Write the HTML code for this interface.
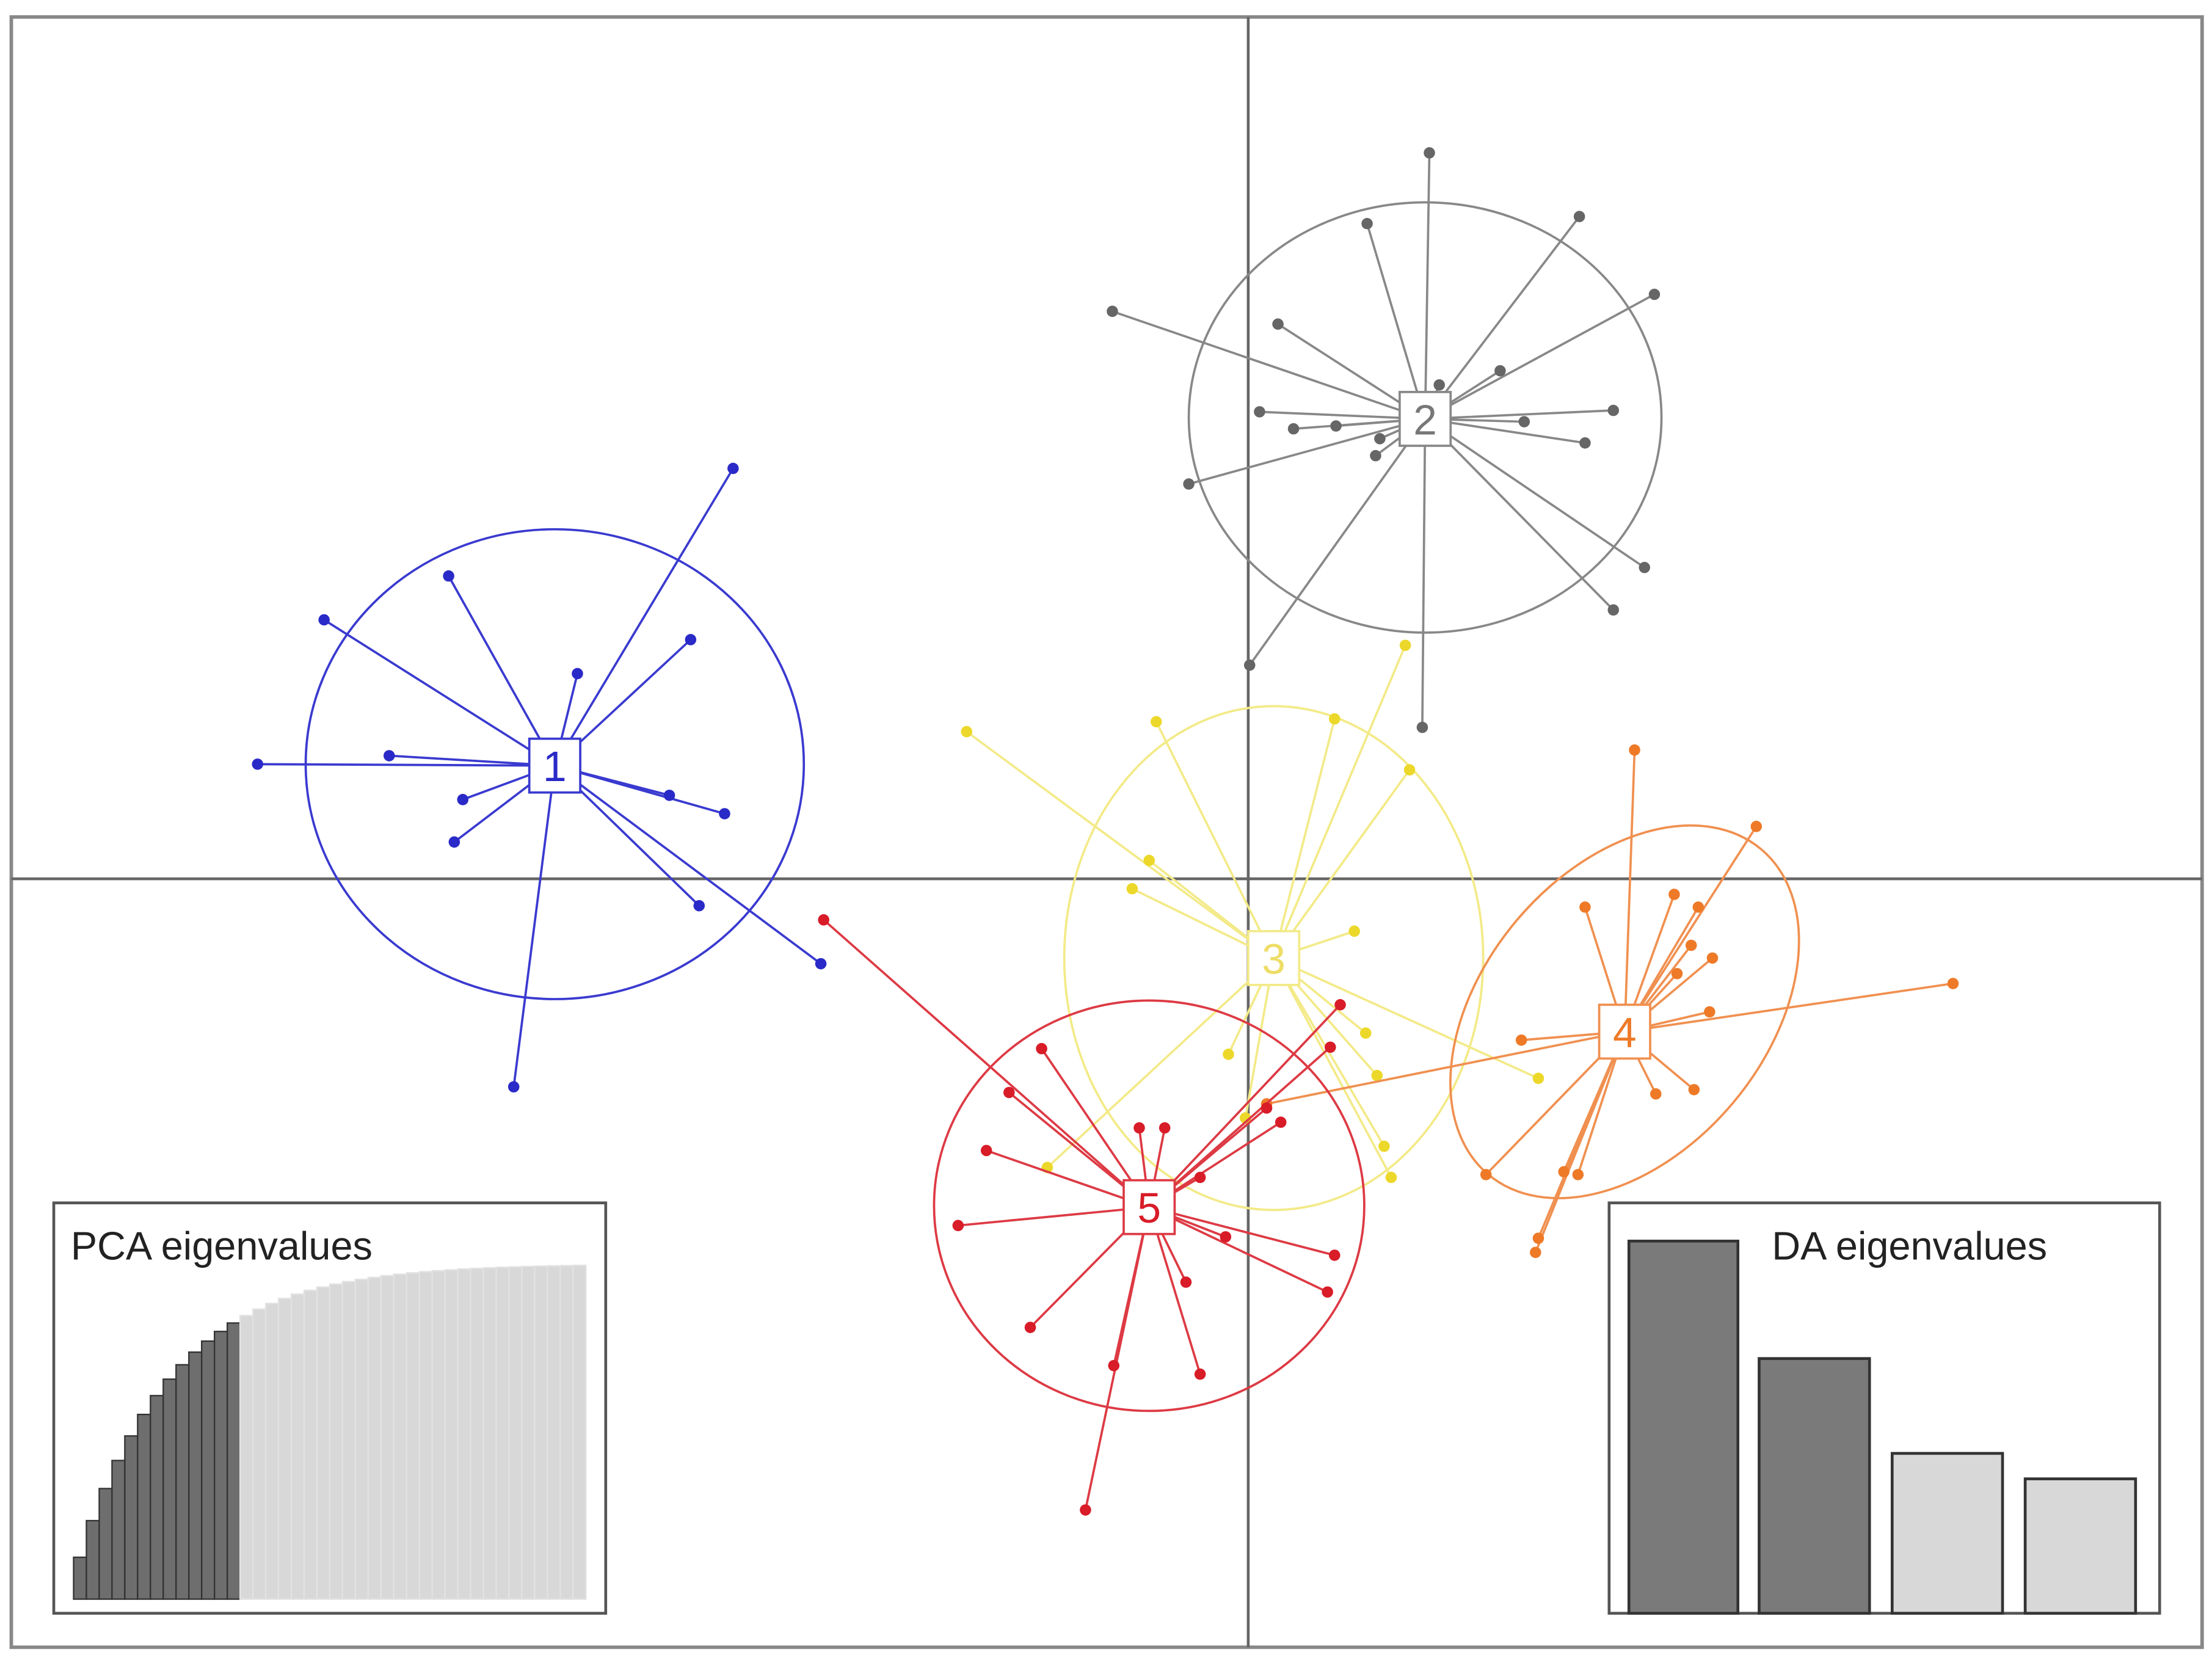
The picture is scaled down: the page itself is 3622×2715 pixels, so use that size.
<!DOCTYPE html>
<html><head><meta charset="utf-8"><style>
html,body{margin:0;padding:0;background:#fff;}
svg{display:block;}
text{font-family:"Liberation Sans",Arial,sans-serif;}
</style></head><body>
<svg id="s" width="3622" height="2715" viewBox="0 0 1563 1171.6" preserveAspectRatio="none" xmlns="http://www.w3.org/2000/svg">
<rect x="0" y="0" width="1563" height="1172" fill="#fff"/>
<rect x="8" y="12" width="1548" height="1152" fill="none" stroke="#888" stroke-width="2.5"/>
<line x1="882" y1="12" x2="882" y2="1164" stroke="#666" stroke-width="2"/>
<line x1="8" y1="621" x2="1556" y2="621" stroke="#666" stroke-width="2"/>
<g id="g"></g>
<!-- PCA inset -->
<rect x="38" y="850" width="390" height="290" fill="#fff" stroke="#555" stroke-width="2"/>
<g id="pca"></g>
<text x="50" y="890" font-size="28" fill="#222">PCA eigenvalues</text>
<!-- DA inset -->
<rect x="1137" y="850" width="389" height="290" fill="#fff" stroke="#555" stroke-width="2"/>
<rect x="1151" y="877" width="77" height="263" fill="#7a7a7a" stroke="#333" stroke-width="2"/>
<rect x="1243" y="960" width="78" height="180" fill="#7a7a7a" stroke="#333" stroke-width="2"/>
<rect x="1337" y="1027" width="78" height="113" fill="#d8d8d8" stroke="#333" stroke-width="2"/>
<rect x="1431" y="1045" width="78" height="95" fill="#d8d8d8" stroke="#333" stroke-width="2"/>
<text x="1252" y="890" font-size="28" fill="#222">DA eigenvalues</text>
</svg>
<script>
var NS="http://www.w3.org/2000/svg",g=document.getElementById('g');
function el(n,a,p){var e=document.createElementNS(NS,n);for(var k in a)e.setAttribute(k,a[k]);(p||g).appendChild(e);return e;}
var C=[
{c:[392,541],e:[392,540,176,166,0],col:"#2a2ac8",lc:"#3a3ad0",tc:"#2a2ac8",lab:"1",
p:[[518,331],[317,407],[229,438],[488,452],[408,476],[182,540],[275,534],[327,565],[473,562],[512,575],[321,595],[494,640],[580,681],[363,768]]},
{c:[1007,296],e:[1007,295,167,152,0],col:"#666",lc:"#888",tc:"#777",lab:"2",
p:[[1010,108],[1116,153],[966,158],[1169,208],[786,220],[903,229],[1060,262],[1017,272],[890,291],[1140,290],[914,303],[1077,298],[944,301],[975,310],[972,322],[1120,313],[840,342],[1162,401],[1140,431],[883,470],[1005,514]]},
{c:[900,677],e:[900,677,148,178,0],col:"#ecd82a",lc:"#f3ea88",tc:"#eedd66",lab:"3",
p:[[683,517],[817,510],[943,508],[993,456],[996,544],[812,608],[800,628],[957,658],[965,730],[973,760],[1087,762],[978,810],[983,832],[880,790],[740,825],[868,745]]},
{c:[1148,729],e:[1148,715,150,100,-50],col:"#ee7a28",lc:"#f09050",tc:"#ee7a28",lab:"4",
p:[[1155,530],[1241,584],[1120,641],[1183,632],[1200,641],[1195,668],[1210,677],[1185,688],[1208,715],[1380,695],[1075,735],[1170,773],[1197,770],[1050,830],[1105,828],[1115,830],[1085,885],[1087,875],[895,780]]},
{c:[812,853],e:[812,852,152,145,0],col:"#d81c28",lc:"#dd3a44",tc:"#d81c28",lab:"5",
p:[[582,650],[736,741],[713,772],[697,813],[805,797],[823,797],[947,710],[940,740],[905,793],[895,783],[848,832],[677,866],[866,874],[943,887],[838,906],[938,913],[728,938],[787,965],[848,971],[767,1067]]}
];
C.forEach(function(k){
 var e=k.e;
 el('ellipse',{cx:e[0],cy:e[1],rx:e[2],ry:e[3],transform:'rotate('+e[4]+' '+e[0]+' '+e[1]+')',fill:'none',stroke:k.lc,'stroke-width':1.6});
 k.p.forEach(function(p){el('line',{x1:k.c[0],y1:k.c[1],x2:p[0],y2:p[1],stroke:k.lc,'stroke-width':1.6});});
 k.p.forEach(function(p){el('circle',{cx:p[0],cy:p[1],r:4,fill:k.col});});
});
C.forEach(function(k){
 el('rect',{x:k.c[0]-18,y:k.c[1]-19,width:36,height:38,fill:'#fff',stroke:k.lc,'stroke-width':1.6});
 var t=el('text',{x:k.c[0],y:k.c[1]+11,'font-size':30,fill:k.tc,'text-anchor':'middle'});t.textContent=k.lab;
});
var pca=document.getElementById('pca'),n=40,w=(414-52)/n;
for(var i=0;i<n;i++){
 var h=237*(1-Math.exp(-(i+1)/7.5));
 var dark=i<13;
 el('rect',{x:52+i*w,y:1130-h,width:w,height:h,fill:dark?'#6e6e6e':'#d8d8d8',stroke:dark?'#333':'#e2e2e2','stroke-width':1},pca);
}
</script>
</body></html>
